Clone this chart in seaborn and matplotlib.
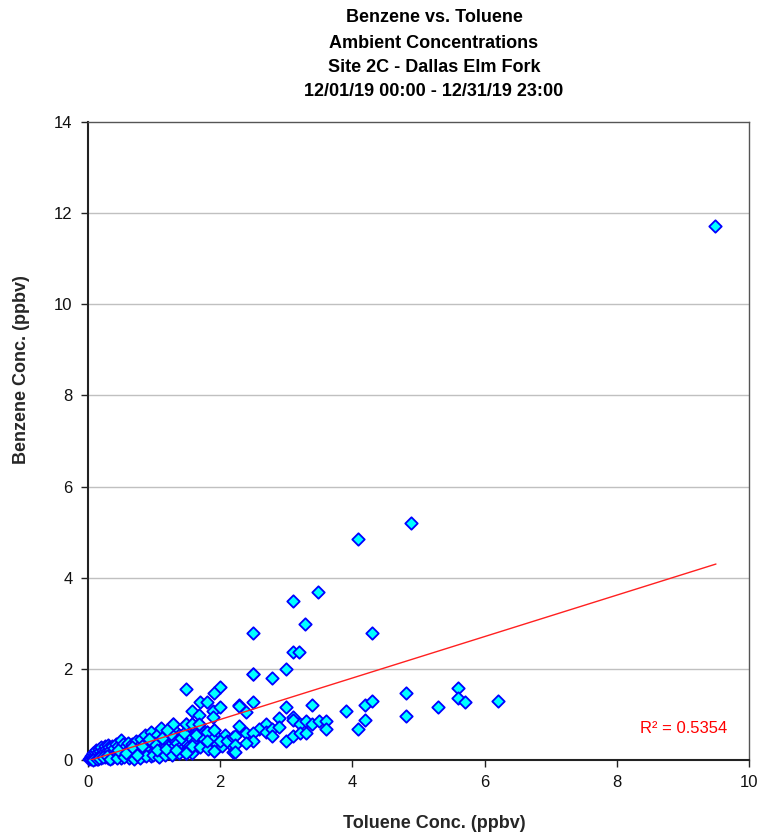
import matplotlib
matplotlib.use("Agg")
import matplotlib.pyplot as plt
import seaborn as sns
import pandas as pd
import numpy as np

# ---------------- data ----------------
toluene = [
    # dense cluster near origin
    0.02, 0.03, 0.05, 0.05, 0.06, 0.08, 0.08, 0.10, 0.10, 0.10, 0.12, 0.12, 0.14, 0.15, 0.15,
    0.16, 0.18, 0.18, 0.20, 0.20, 0.20, 0.22, 0.22, 0.24, 0.25, 0.25, 0.27, 0.27, 0.29, 0.30,
    0.30, 0.32, 0.32, 0.34, 0.34, 0.36, 0.37, 0.38, 0.40, 0.40, 0.42, 0.43, 0.45, 0.46, 0.48,
    0.50, 0.50, 0.52, 0.53, 0.55, 0.57, 0.58, 0.60, 0.60, 0.62, 0.64, 0.65, 0.67, 0.68, 0.70,
    0.72, 0.73, 0.75, 0.76, 0.78, 0.80, 0.80, 0.82, 0.84, 0.85, 0.86, 0.88, 0.90, 0.90, 0.92,
    0.95, 0.95, 0.96, 0.98, 1.00, 1.00, 1.02, 1.05, 1.05, 1.08, 1.10, 1.10, 1.12, 1.15, 1.15,
    1.18, 1.20, 1.20, 1.22, 1.25, 1.25, 1.28, 1.29, 1.30, 1.30, 1.32, 1.35, 1.38, 1.40, 1.42,
    1.45, 1.48, 1.48, 1.50, 1.50, 1.52, 1.55, 1.58, 1.60, 1.62, 1.65, 1.68, 1.70, 1.72, 1.75,
    1.80, 1.80, 1.85, 1.90, 1.90, 1.95, 0.07, 0.13, 0.17, 0.23, 0.28, 0.33, 0.44, 0.55, 0.63,
    0.70, 0.78, 0.88, 0.99, 1.07, 1.17, 1.27, 1.37, 1.47, 1.57,
    # extra fill of the dense band
    1.00, 1.05, 1.12, 1.18, 1.25, 1.33, 1.40, 1.45, 1.52, 1.58, 1.63, 1.70, 1.75, 1.82, 1.88,
    1.95, 2.02, 2.08, 2.15, 0.45, 0.58, 0.66, 0.74, 0.82, 0.92,
    # mid region
    1.48, 2.00, 1.90, 1.70, 1.80, 1.58, 1.68, 1.89, 1.99, 1.89, 2.28, 1.29, 1.48, 1.58, 1.68,
    1.19, 1.80, 1.90, 1.80, 2.00, 2.10, 2.20, 1.90, 2.20, 1.48, 2.22, 2.22, 2.22,
    2.49, 2.79, 3.00, 2.28, 2.49, 2.39, 2.99, 3.39, 3.90, 4.19, 4.29, 2.28, 2.89, 3.10, 3.10,
    3.20, 3.30, 3.39, 3.49, 3.60, 3.60, 2.69, 2.59, 2.69, 2.79, 2.89, 2.39, 2.49, 2.49, 2.39,
    2.79, 2.99, 3.10, 3.20, 3.30, 4.09, 4.19,
    # upper outliers
    3.48, 3.10, 3.29, 2.49, 4.29, 3.10, 3.19, 2.49, 4.09, 4.89,
    # right region
    4.81, 4.81, 5.29, 5.60, 5.60, 5.70, 6.20, 9.49,
]
benzene = [
    0.02, 0.05, 0.03, 0.08, 0.12, 0.05, 0.15, 0.02, 0.10, 0.18, 0.06, 0.22, 0.12, 0.03, 0.17,
    0.25, 0.08, 0.20, 0.04, 0.14, 0.28, 0.10, 0.22, 0.17, 0.06, 0.30, 0.12, 0.25, 0.20, 0.05,
    0.33, 0.15, 0.28, 0.10, 0.22, 0.30, 0.05, 0.18, 0.26, 0.12, 0.35, 0.08, 0.20, 0.30, 0.14,
    0.44, 0.05, 0.25, 0.35, 0.18, 0.10, 0.30, 0.38, 0.22, 0.05, 0.15, 0.28, 0.35, 0.10, 0.20,
    0.30, 0.42, 0.08, 0.24, 0.15, 0.35, 0.45, 0.28, 0.10, 0.20, 0.55, 0.32, 0.40, 0.15, 0.25,
    0.50, 0.08, 0.62, 0.35, 0.20, 0.45, 0.30, 0.12, 0.55, 0.40, 0.25, 0.70, 0.35, 0.50, 0.15,
    0.30, 0.60, 0.42, 0.20, 0.35, 0.50, 0.28, 0.80, 0.65, 0.45, 0.18, 0.38, 0.55, 0.30, 0.25,
    0.45, 0.80, 0.15, 0.35, 0.60, 0.28, 0.50, 0.80, 0.40, 0.25, 0.70, 0.80, 0.50, 0.35, 0.62,
    0.62, 0.42, 0.30, 0.66, 0.20, 0.50, 0.00, 0.02, 0.04, 0.06, 0.08, 0.03, 0.05, 0.07, 0.12,
    0.03, 0.05, 0.08, 0.10, 0.06, 0.10, 0.12, 0.15, 0.18, 0.15,
    0.38, 0.22, 0.48, 0.25, 0.58, 0.22, 0.48, 0.60, 0.20, 0.30, 0.55, 0.28, 0.45, 0.25, 0.48,
    0.35, 0.30, 0.55, 0.35, 0.22, 0.15, 0.28, 0.12, 0.30, 0.45,
    1.56, 1.60, 1.46, 1.27, 1.27, 1.08, 0.99, 1.08, 1.17, 0.95, 1.20, 0.80, 0.80, 0.80, 0.80,
    0.66, 0.62, 0.66, 0.42, 0.42, 0.42, 0.51, 0.20, 0.18, 0.15, 0.53, 0.33, 0.18,
    1.89, 1.79, 1.99, 1.18, 1.27, 1.06, 1.17, 1.20, 1.07, 1.20, 1.30, 0.75, 0.93, 0.95, 0.88,
    0.79, 0.86, 0.80, 0.86, 0.86, 0.67, 0.79, 0.67, 0.62, 0.67, 0.73, 0.60, 0.59, 0.42, 0.38,
    0.53, 0.42, 0.53, 0.60, 0.60, 0.68, 0.88,
    3.69, 3.49, 2.98, 2.78, 2.78, 2.38, 2.38, 1.89, 4.86, 5.19,
    1.47, 0.97, 1.17, 1.57, 1.37, 1.27, 1.30, 11.72,
]
trend_x = [0.0, 9.5]
trend_y = [-0.02, 4.30]
r2_label = "R² = 0.5354"
title_lines = ["Benzene vs. Toluene", "Ambient Concentrations",
               "Site 2C - Dallas Elm Fork", "12/01/19 00:00 - 12/31/19 23:00"]
x_label = "Toluene Conc. (ppbv)"
y_label = "Benzene Conc. (ppbv)"
x_ticks = [0, 2, 4, 6, 8, 10]
y_ticks = [0, 2, 4, 6, 8, 10, 12, 14]

df = pd.DataFrame({"toluene": toluene, "benzene": benzene})
trend = pd.DataFrame({"x": trend_x, "y": trend_y})

# ---------------- figure ----------------
sns.set_theme(style="white")
plt.rcParams["font.family"] = ["Liberation Sans", "DejaVu Sans"]

W, H = 763, 838
fig = plt.figure(figsize=(W / 100, H / 100), dpi=100)
ax = fig.add_axes([88 / W, 1 - 760 / H, (749 - 88) / W, (760 - 122) / H])

ax.set_xlim(0, 10)
ax.set_ylim(0, 14)
ax.set_xticks(x_ticks)
ax.set_yticks(y_ticks)
for yv in y_ticks[1:-1]:
    ax.axhline(yv, color="#c0c0c0", lw=1, zorder=0)

sns.scatterplot(data=df, x="toluene", y="benzene", marker="D", s=40,
                color="#00FFFF", edgecolor="#0000FF", linewidth=1.3,
                ax=ax, zorder=3, clip_on=False)
sns.lineplot(data=trend, x="x", y="y", color="#FF2020", lw=1, ax=ax, zorder=4)

ax.text(9.67, 0.70, r2_label, color="#FF0000", fontsize=12, ha="right", va="center")

for side in ["left", "bottom"]:
    ax.spines[side].set_color("#222222")
    ax.spines[side].set_linewidth(1.5)
for side in ["top", "right"]:
    ax.spines[side].set_color("#555555")
    ax.spines[side].set_linewidth(1.0)

ax.tick_params(axis="both", direction="out", length=5, width=1, color="#222222",
               labelsize=12, labelcolor="#111111", bottom=True, left=True, pad=6)
ax.set_xlabel("")
ax.set_ylabel("")

cx = 434 / W
for i, (line, ypx) in enumerate(zip(title_lines, [18, 43, 67, 91])):
    fig.text(cx, 1 - ypx / H, line, ha="center", va="center",
             fontsize=13, fontweight="bold", color="black")

fig.text(cx, 1 - 823 / H, x_label, ha="center", va="center",
         fontsize=13, fontweight="bold")
fig.text(22 / W, 1 - 370 / H, y_label, ha="center", va="center",
         rotation=90, fontsize=13, fontweight="bold")

fig.savefig("out.png", dpi=100)
